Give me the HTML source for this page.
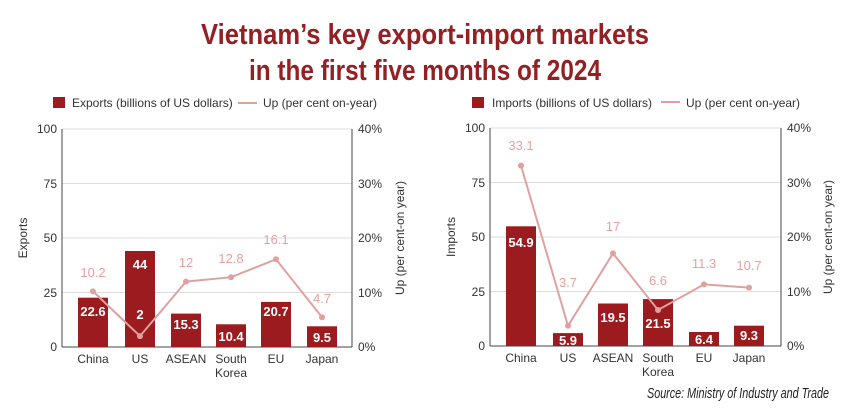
<!DOCTYPE html><html><head><style>body{margin:0;background:#fff}svg{display:block}text{font-family:"Liberation Sans",sans-serif}</style></head><body>
<svg width="850" height="418" xmlns="http://www.w3.org/2000/svg">
<text x="425" y="44" text-anchor="middle" font-weight="bold" font-size="29" fill="#952024" textLength="448" lengthAdjust="spacingAndGlyphs">Vietnam’s key export-import markets</text>
<text x="425" y="80" text-anchor="middle" font-weight="bold" font-size="29" fill="#952024" textLength="352" lengthAdjust="spacingAndGlyphs">in the first five months of 2024</text>
<g font-size="12" fill="#333">
<rect x="53" y="97" width="12" height="11" fill="#9b1b1f"/><text x="72" y="107">Exports (billions of US dollars)</text>
<line x1="238" y1="103" x2="257" y2="103" stroke="#e0a0a0" stroke-width="2"/><text x="263" y="107">Up (per cent on-year)</text>
<rect x="472" y="97" width="12" height="11" fill="#9b1b1f"/><text x="492" y="107">Imports (billions of US dollars)</text>
<line x1="661" y1="102" x2="680" y2="102" stroke="#e0a0a0" stroke-width="2"/><text x="686" y="107">Up (per cent on-year)</text>
</g>
<g stroke="#ddd" stroke-width="1">
<line x1="62" x2="352" y1="129" y2="129"/><line x1="62" x2="352" y1="183.5" y2="183.5"/><line x1="62" x2="352" y1="238" y2="238"/><line x1="62" x2="352" y1="292.5" y2="292.5"/>
<line x1="490" x2="781" y1="128" y2="128"/><line x1="490" x2="781" y1="182.5" y2="182.5"/><line x1="490" x2="781" y1="237" y2="237"/><line x1="490" x2="781" y1="291.5" y2="291.5"/>
</g>
<g stroke="#444" stroke-width="1">
<line x1="62" x2="62" y1="129" y2="347"/><line x1="352" x2="352" y1="129" y2="347"/><line x1="62" x2="352" y1="347" y2="347"/>
<line x1="490" x2="490" y1="128" y2="346"/><line x1="781" x2="781" y1="128" y2="346"/><line x1="490" x2="781" y1="346" y2="346"/>
</g>
<g font-size="12" fill="#333" text-anchor="end">
<text x="57" y="133">100</text><text x="57" y="188">75</text><text x="57" y="242">50</text><text x="57" y="297">25</text><text x="57" y="351">0</text>
<text x="485" y="132">100</text><text x="485" y="187">75</text><text x="485" y="241">50</text><text x="485" y="296">25</text><text x="485" y="350">0</text>
</g>
<g font-size="12" fill="#333">
<text x="358" y="133">40%</text><text x="358" y="188">30%</text><text x="358" y="242">20%</text><text x="358" y="297">10%</text><text x="358" y="351">0%</text>
<text x="787" y="132">40%</text><text x="787" y="187">30%</text><text x="787" y="241">20%</text><text x="787" y="296">10%</text><text x="787" y="350">0%</text>
<text transform="translate(27,238) rotate(-90)" text-anchor="middle">Exports</text>
<text transform="translate(404,238) rotate(-90)" text-anchor="middle">Up (per cent-on year)</text>
<text transform="translate(455,237) rotate(-90)" text-anchor="middle">Imports</text>
<text transform="translate(832,237) rotate(-90)" text-anchor="middle">Up (per cent-on year)</text>
</g>
<g font-size="12" fill="#333" text-anchor="middle">
<text x="93" y="363">China</text><text x="140" y="363">US</text><text x="186" y="363">ASEAN</text><text x="231" y="363">South</text><text x="231" y="377">Korea</text><text x="276" y="363">EU</text><text x="322" y="363">Japan</text>
<text x="521" y="362">China</text><text x="568" y="362">US</text><text x="613" y="362">ASEAN</text><text x="658" y="362">South</text><text x="658" y="376">Korea</text><text x="704" y="362">EU</text><text x="749" y="362">Japan</text>
</g>
<g fill="#9b1b1f">
<rect x="78" y="297.7" width="30" height="49.3"/><rect x="125" y="251" width="30" height="96"/><rect x="171" y="313.6" width="30" height="33.4"/><rect x="216" y="324.3" width="30" height="22.7"/><rect x="261" y="301.9" width="30" height="45.1"/><rect x="307" y="326.3" width="30" height="20.7"/>
<rect x="506" y="226.3" width="30" height="119.7"/><rect x="553" y="333.1" width="30" height="12.9"/><rect x="598" y="303.5" width="30" height="42.5"/><rect x="643" y="299.1" width="30" height="46.9"/><rect x="689" y="332" width="30" height="14"/><rect x="734" y="325.7" width="30" height="20.3"/>
</g>
<g font-size="13" font-weight="bold" fill="#fff" text-anchor="middle">
<text x="93" y="316">22.6</text><text x="140" y="269">44</text><text x="140" y="319">2</text><text x="186" y="329">15.3</text><text x="231" y="341">10.4</text><text x="276" y="316">20.7</text><text x="322" y="342">9.5</text>
<text x="521" y="247">54.9</text><text x="568" y="345">5.9</text><text x="613" y="322">19.5</text><text x="658" y="328">21.5</text><text x="704" y="344">6.4</text><text x="749" y="340">9.3</text>
</g>
<g stroke="#e0a0a0" stroke-width="2" fill="none">
<polyline points="93,291.4 140,336.1 186,281.6 231,277.2 276,259.3 322,317.2"/>
<polyline points="521,165.6 568,325.8 613,253.4 658,310 704,284.4 749,287.6"/>
</g>
<g fill="#e0a0a0">
<circle cx="93" cy="291.4" r="3"/><circle cx="140" cy="336.1" r="3"/><circle cx="186" cy="281.6" r="3"/><circle cx="231" cy="277.2" r="3"/><circle cx="276" cy="259.3" r="3"/><circle cx="322" cy="317.2" r="3"/>
<circle cx="521" cy="165.6" r="3"/><circle cx="568" cy="325.8" r="3"/><circle cx="613" cy="253.4" r="3"/><circle cx="658" cy="310" r="3"/><circle cx="704" cy="284.4" r="3"/><circle cx="749" cy="287.6" r="3"/>
</g>
<g font-size="13" fill="#e8a0a0" text-anchor="middle">
<text x="93" y="277">10.2</text><text x="186" y="267">12</text><text x="231" y="263">12.8</text><text x="276" y="244">16.1</text><text x="322" y="303">4.7</text>
<text x="521" y="150">33.1</text><text x="568" y="287">3.7</text><text x="613" y="231">17</text><text x="658" y="285">6.6</text><text x="704" y="268">11.3</text><text x="749" y="270">10.7</text>
</g>
<text x="829" y="398" text-anchor="end" font-size="15" font-style="italic" fill="#222" textLength="182" lengthAdjust="spacingAndGlyphs">Source: Ministry of Industry and Trade</text>
</svg>
</body></html>
